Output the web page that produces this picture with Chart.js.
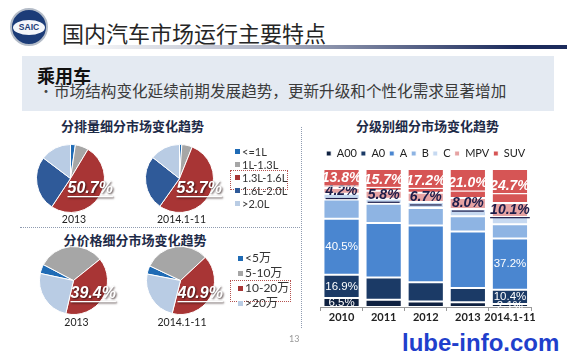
<!DOCTYPE html>
<html><head><meta charset="utf-8">
<script src="https://cdn.jsdelivr.net/npm/chart.js@4.4.1/dist/chart.umd.min.js"></script>
<style>
html,body{margin:0;padding:0;background:#fff}
body{width:567px;height:354px;position:relative;overflow:hidden;font-family:"Noto Sans CJK SC",sans-serif}
.t{position:absolute;white-space:nowrap;line-height:1}
canvas{position:absolute}
.ttl{font-weight:bold;font-size:13px;color:#1e2b48;transform:translateX(-50%)}
.yr{font-family:Lato,"Noto Sans CJK SC";font-size:10.5px;color:#222;transform:translateX(-50%)}
.lg{position:absolute;white-space:nowrap;line-height:1;font-family:Lato,"Noto Sans CJK SC";color:#333}
.sq{position:absolute;width:5px;height:5px}
</style></head><body>
<!-- header -->
<div style="position:absolute;left:10px;top:8px;width:34px;height:34px;border-radius:50%;background:#1c3c78;border:2px solid #b4bcc8"></div>
<div style="position:absolute;left:13px;top:19.5px;width:32px;height:15px;border-radius:50%;background:#f4f6fa"></div>
<div class="t" style="left:16px;top:23px;width:26px;text-align:center;font-family:'Liberation Sans';font-weight:bold;font-size:8.5px;color:#1c3c78">SAIC</div>
<div class="t" style="left:62px;top:20.5px;font-size:22px;color:#262626">国内汽车市场运行主要特点</div>
<div style="position:absolute;left:66px;top:45px;width:501px;height:4px;background:linear-gradient(to right,rgba(28,43,92,0),rgba(28,43,92,0.35) 40%,#1c2b5c 90%)"></div>
<div style="position:absolute;left:22px;top:56px;width:532px;height:55px;background:#e4eaf2"></div>
<div class="t" style="left:37px;top:66px;font-size:18px;font-weight:bold;color:#111">乘用车</div>
<div class="t" style="left:39px;top:82.5px;font-size:14px;color:#444">•</div>
<div class="t" style="left:54px;top:82.5px;font-size:15.6px;color:#3a3a3a">市场结构变化延续前期发展趋势，更新升级和个性化需求显著增加</div>

<!-- dividers -->
<div style="position:absolute;left:301px;top:127px;height:201px;border-left:1px dotted #8f9bb0"></div>
<div style="position:absolute;left:20px;top:227px;width:280px;border-top:1px dotted #8f9bb0"></div>

<div class="t ttl" style="left:132.5px;top:118.5px">分排量细分市场变化趋势</div>
<div class="t ttl" style="left:135px;top:232.5px">分价格细分市场变化趋势</div>
<div class="t ttl" style="left:427.5px;top:118.5px">分级别细分市场变化趋势</div>

<canvas id="pD13" width="109" height="109" style="left:16px;top:124px"></canvas>
<canvas id="pD14" width="109" height="109" style="left:124.5px;top:124px"></canvas>
<canvas id="pP13" width="109" height="109" style="left:19px;top:225.5px"></canvas>
<canvas id="pP14" width="109" height="109" style="left:125.5px;top:225.5px"></canvas>
<canvas id="bars" width="267" height="188" style="left:300px;top:140px"></canvas>

<div class="t yr" style="left:74px;top:214px">2013</div>
<div class="t yr" style="left:181.5px;top:214px">2014.1-11</div>
<div class="t yr" style="left:76.5px;top:317px">2013</div>
<div class="t yr" style="left:182px;top:317px">2014.1-11</div>

<div style="position:absolute;left:230px;top:170px;width:56px;height:18px;border:1.5px dotted #b5524f"></div>
<div style="position:absolute;left:230px;top:280px;width:59px;height:20px;border:1.5px dotted #b5524f"></div>
<div id="legD"></div>
<div id="legP"></div>

<div class="t" style="left:289px;top:334px;font-family:Lato;font-size:9px;color:#999">13</div>
<div class="t" style="left:402px;top:331px;font-family:'Liberation Sans';font-weight:bold;font-size:24px;color:#1f3fcc">lube-info.com</div>

<script>
// ---------- data ----------
const displacementCats = ['<=1L', '1L-1.3L', '1.3L-1.6L', '1.6L-2.0L', '>2.0L'];
const displacement2013 = [2.3, 6.3, 50.7, 26.0, 14.7];
const displacement2014 = [1.1, 5.0, 53.7, 25.8, 14.4];
const priceCats = ['<5万', '5-10万', '10-20万', '>20万'];
const price2013 = [4.4, 31.5, 39.4, 24.7];
const price2014 = [4.0, 31.0, 40.9, 24.1];
const pieYears = ['2013', '2014.1-11'];

const barYears = ['2010', '2011', '2012', '2013', '2014.1-11'];
const segmentNames = ['A00', 'A0', 'A', 'B', 'C', 'MPV', 'SUV'];
const segA00 = [6.5, 5.3, 4.0, 3.4, 2.1];
const segA0  = [16.9, 16.0, 14.0, 10.4, 10.4];
const segA   = [40.5, 39.5, 41.0, 41.0, 37.2];
const segB   = [14.0, 14.0, 12.8, 10.9, 10.2];
const segC   = [4.1, 3.7, 4.3, 5.3, 5.3];
const segMPV = [4.2, 5.8, 6.7, 8.0, 10.1];
const segSUV = [13.8, 15.7, 17.2, 21.0, 24.7];
const labelledLowerYears = [0, 4];   // years whose A / A0 / A00 values are printed

// ---------- styles ----------
const dispColors = ['#1f6bb5', '#a6a6a6', '#a83535', '#2f5a99', '#b9cce4'];
const priceColors = ['#1f6bb5', '#a6a6a6', '#a83535', '#b9cce4'];
const segColors = ['#0f2140', '#1b3a66', '#4a86d0', '#8eb4e3', '#c6d9f1', '#e6a3a3', '#d65555'];
const NARROW = '"Liberation Sans Narrow", "Liberation Sans", Lato';

function buildLegend(id, cats, colors, sqLeft, txtLeft, top0, step, size) {
  const host = document.getElementById(id);
  cats.forEach((c, i) => {
    const cy = top0 + step * i;
    const sq = document.createElement('div');
    sq.className = 'sq';
    sq.style.left = sqLeft + 'px'; sq.style.top = (cy - 2.5) + 'px'; sq.style.background = colors[i];
    host.appendChild(sq);
    const t = document.createElement('div');
    t.className = 'lg';
    t.textContent = c;
    t.style.left = txtLeft + 'px'; t.style.top = (cy - size / 2) + 'px'; t.style.fontSize = size + 'px';
    host.appendChild(t);
  });
}
buildLegend('legD', displacementCats, dispColors, 235, 242, 151.5, 13.1, 11);
buildLegend('legP', priceCats, priceColors, 238, 245, 258, 15, 12);

const pieLabelPlugin = {
  id: 'pieLabel',
  afterDatasetsDraw(chart, args, opts) {
    const arc = chart.getDatasetMeta(0).data[opts.index];
    const v = chart.data.datasets[0].data[opts.index];
    const text = v.toFixed(1) + '%';
    const ctx = chart.ctx;
    ctx.save();
    ctx.font = 'italic bold 16px ' + NARROW;
    ctx.textAlign = 'left'; ctx.textBaseline = 'middle';
    const x = arc.x + opts.dx, y = arc.y + opts.dy;
    ctx.shadowColor = 'rgba(30,10,10,0.8)'; ctx.shadowBlur = 2; ctx.shadowOffsetX = 1; ctx.shadowOffsetY = 1;
    ctx.fillStyle = '#fff';
    ctx.fillText(text, x, y);
    const w = ctx.measureText(text).width;
    ctx.fillRect(x, y + 7.5, w, 1.3);
    ctx.restore();
  }
};

function makePie(id, values, labels, colors, rotation, dy) {
  new Chart(document.getElementById(id), {
    type: 'pie',
    data: { labels: labels, datasets: [{ data: values, backgroundColor: colors, borderColor: '#ffffff', borderWidth: 1 }] },
    options: {
      responsive: false, animation: false, devicePixelRatio: 1, rotation: rotation,
      layout: { padding: 20 },
      plugins: { legend: { display: false }, tooltip: { enabled: false }, pieLabel: { index: 2, dx: -3, dy: dy } }
    },
    plugins: [pieLabelPlugin]
  });
}
makePie('pD13', displacement2013, displacementCats, dispColors, 0, 10);
makePie('pD14', displacement2014, displacementCats, dispColors, 0, 10);
makePie('pP13', price2013, priceCats, priceColors, 282, 13);
makePie('pP14', price2014, priceCats, priceColors, 281, 13);

// bar label styles per dataset (A00, A0, A, B, C, MPV, SUV)
const lowerStyle = { color: '#ffffff', size: 11.5, only: labelledLowerYears };
const barLabelStyles = [lowerStyle, lowerStyle, lowerStyle, null, null,
  { color: '#1d1d4a', size: 14, bold: true, italic: true, underline: true },
  { color: '#ffffff', size: 14, bold: true, italic: true, underline: true }];

const barLabelPlugin = {
  id: 'barLabels',
  afterDatasetsDraw(chart) {
    const ctx = chart.ctx;
    barLabelStyles.forEach((st, di) => {
      if (!st) return;
      const meta = chart.getDatasetMeta(di);
      const data = chart.data.datasets[di].data;
      meta.data.forEach((bar, i) => {
        if (st.only && st.only.indexOf(i) < 0) return;
        const text = data[i].toFixed(1) + '%';
        const y = (bar.y + bar.base) / 2;
        ctx.save();
        ctx.font = (st.italic ? 'italic ' : '') + (st.bold ? 'bold ' : '') + st.size + 'px ' + NARROW;
        ctx.textAlign = 'center'; ctx.textBaseline = 'middle';
        ctx.fillStyle = st.color;
        ctx.fillText(text, bar.x, y);
        if (st.underline) {
          const w = ctx.measureText(text).width;
          ctx.fillRect(bar.x - w / 2, y + st.size * 0.5, w, 1.2);
        }
        ctx.restore();
      });
    });
  }
};

const segData = [segA00, segA0, segA, segB, segC, segMPV, segSUV];
new Chart(document.getElementById('bars'), {
  type: 'bar',
  data: {
    labels: barYears,
    datasets: segData.map((d, i) => ({
      label: segmentNames[i], data: d, backgroundColor: segColors[i],
      borderColor: '#ffffff', borderWidth: 1, borderSkipped: false,
      categoryPercentage: 1, barPercentage: 0.86
    }))
  },
  options: {
    responsive: false, animation: false, devicePixelRatio: 1,
    layout: { padding: { left: 20.5, right: 36, top: 4, bottom: 3.8 } },
    scales: {
      x: {
        stacked: true,
        grid: { display: true, drawOnChartArea: false, drawTicks: true, tickLength: 4, color: '#9a9a9a' },
        border: { display: true, color: '#9a9a9a' },
        ticks: { font: { family: 'Lato', weight: 'bold', size: 11 }, color: '#222', padding: 0, maxRotation: 0, autoSkip: false }
      },
      y: { stacked: true, min: 0, max: 100, display: false }
    },
    plugins: {
      tooltip: { enabled: false },
      legend: {
        position: 'top',
        labels: { boxWidth: 5, boxHeight: 5, padding: 4, color: '#222', font: { family: 'Lato', size: 11 } }
      }
    }
  },
  plugins: [barLabelPlugin]
});
</script>
</body></html>
